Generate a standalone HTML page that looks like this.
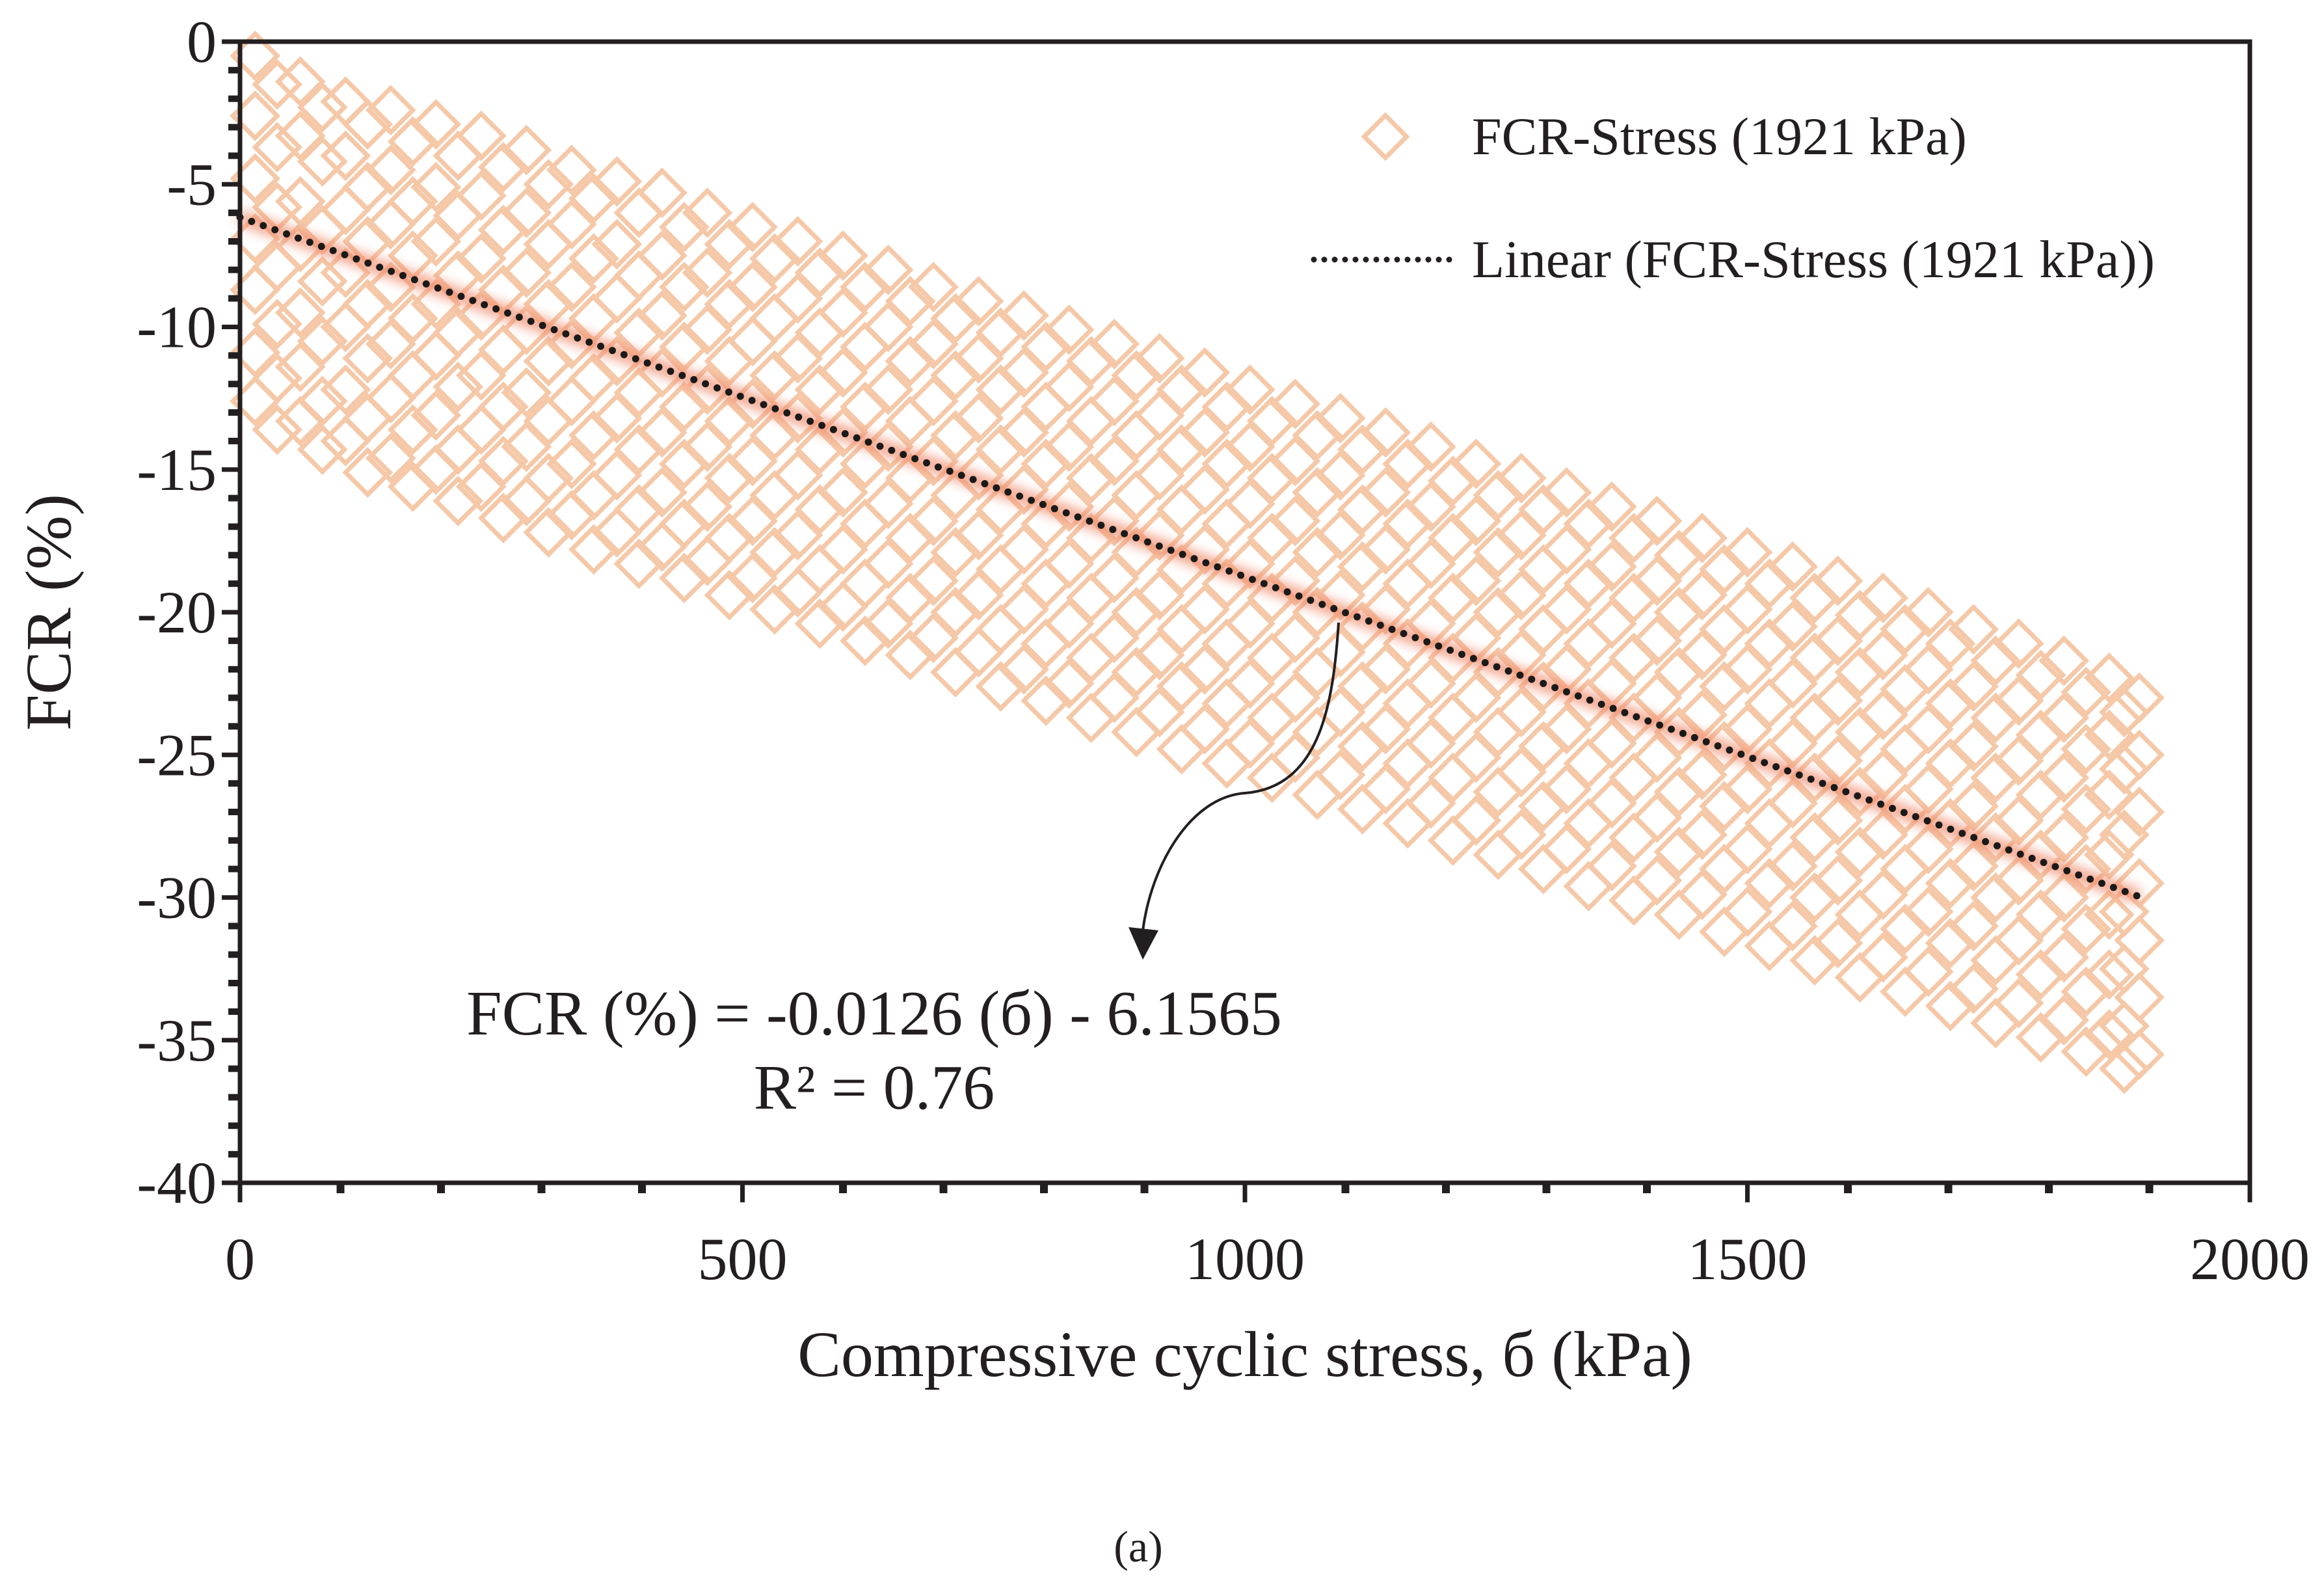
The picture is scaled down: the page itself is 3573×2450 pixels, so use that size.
<!DOCTYPE html>
<html><head><meta charset="utf-8"><style>
html,body{margin:0;padding:0;background:#fff;}
svg{display:block;font-family:"Liberation Serif",serif;}
</style></head><body>
<svg id="chart" width="3573" height="2450" viewBox="0 0 3573 2450" xmlns="http://www.w3.org/2000/svg">
<defs><filter id="blur" x="-5%" y="-50%" width="110%" height="200%"><feGaussianBlur stdDeviation="9"/></filter></defs>
<g id="points"></g>
<g id="trend"></g>
<g id="axes"></g>
<g>
  <rect x="2107" y="187" width="46" height="46" transform="rotate(45 2130 210)" fill="none" stroke="#f5c8a8" stroke-width="7"/>
  <text x="2263" y="237" font-size="82" fill="#231f20">FCR-Stress (1921 kPa)</text>
  <line x1="2020" y1="399" x2="2238" y2="399" stroke="#231f20" stroke-width="9" stroke-dasharray="0 16" stroke-linecap="round"/>
  <text x="2263" y="426" font-size="82" fill="#231f20">Linear (FCR-Stress (1921 kPa))</text>
</g>
<g>
  <path d="M2058,957 C2050,1080 2030,1210 1914,1219 C1830,1225 1770,1330 1757,1430" fill="none" stroke="#231f20" stroke-width="4"/>
  <polygon points="1735,1425 1781,1430 1757,1475" fill="#231f20"/>
  <text x="1344" y="1590" font-size="98" text-anchor="middle" fill="#231f20">FCR (%) = -0.0126 (б) - 6.1565</text>
  <text x="1344" y="1704" font-size="98" text-anchor="middle" fill="#231f20">R² = 0.76</text>
</g>
<text x="1914" y="2115" font-size="100" text-anchor="middle" fill="#231f20">Compressive cyclic stress, б (kPa)</text>
<text x="0" y="0" font-size="100" text-anchor="middle" fill="#231f20" transform="translate(108 941) rotate(-90)">FCR (%)</text>
<text x="1750" y="2400" font-size="68" text-anchor="middle" fill="#231f20">(a)</text>
</svg>
<script>
const colX = [15,60,105,150,195,240,285,330,375,420,465,510,555,600,645,690,735,780,825,870,915,960,1005,1050,1095,1140,1185,1230,1275,1320,1365,1410,1455,1500,1545,1590,1635,1680,1725,1770,1815,1860,1890];
const colY = [
[-0.5,-2.6,-4.8,-6.9,-8.7,-10.9,-12.6],[-1.4,-3.3,-5.6,-7.2,-9.5,-11.4,-13.3],[-2.1,-4.0,-5.9,-8.1,-10.0,-12.2,-14.0],
[-2.4,-4.5,-6.4,-8.6,-10.6,-12.5,-14.6],[-2.9,-5.1,-7.0,-9.2,-11.0,-13.1,-15.0],[-3.3,-5.4,-7.6,-9.6,-11.7,-13.6,-15.6],
[-3.8,-6.0,-8.1,-10.1,-12.3,-14.2,-16.1],[-4.5,-6.4,-8.6,-10.6,-12.6,-14.8,-16.6],[-4.9,-7.1,-9.0,-11.2,-13.2,-15.2,-17.2],
[-5.3,-7.5,-9.6,-11.6,-13.7,-15.8,-17.7],[-6.0,-8.1,-10.1,-12.2,-14.2,-16.3,-18.2],[-6.5,-8.6,-10.5,-12.7,-14.7,-16.8,-18.8],
[-7.0,-9.0,-11.1,-13.2,-15.2,-17.3,-19.3],[-7.5,-9.5,-11.6,-13.7,-15.8,-17.8,-19.8],[-8.0,-10.0,-12.2,-14.2,-16.2,-18.3,-20.4],
[-8.6,-10.6,-12.6,-14.7,-16.8,-18.9,-20.9],[-9.1,-11.1,-13.2,-15.2,-17.3,-19.4,-21.4],[-9.6,-11.6,-13.7,-15.7,-17.8,-19.9,-22.0],
[-10.1,-12.1,-14.2,-16.3,-18.3,-20.4,-22.5],[-10.6,-12.6,-14.7,-16.8,-18.8,-20.9,-23.0],[-11.1,-13.1,-15.2,-17.3,-19.4,-21.5,-23.5],
[-11.6,-13.7,-15.7,-17.8,-19.9,-22.0,-24.1],[-12.2,-14.2,-16.2,-18.3,-20.4,-22.5,-24.6],[-12.7,-14.7,-16.8,-18.9,-20.9,-23.0,-25.1],
[-13.2,-15.2,-17.3,-19.4,-21.4,-23.5,-25.7],[-13.7,-15.8,-17.8,-19.9,-22.0,-24.1,-26.2],[-14.2,-16.3,-18.3,-20.4,-22.5,-24.6,-26.7],
[-14.8,-16.8,-18.9,-20.9,-23.0,-25.1,-27.3],[-15.3,-17.3,-19.4,-21.5,-23.5,-25.6,-27.8],[-15.8,-17.8,-19.9,-22.0,-24.1,-26.2,-28.3],
[-16.3,-18.4,-20.4,-22.5,-24.6,-26.7,-28.9],[-16.8,-18.9,-21.0,-23.0,-25.1,-27.2,-29.4],[-17.4,-19.4,-21.5,-23.6,-25.7,-27.8,-29.9],
[-17.9,-19.9,-22.0,-24.1,-26.2,-28.3,-30.5],[-18.4,-20.5,-22.5,-24.6,-26.7,-28.9,-31.0],[-18.9,-21.0,-23.1,-25.2,-27.3,-29.4,-31.6],
[-19.5,-21.5,-23.6,-25.7,-27.8,-29.9,-32.1],[-20.0,-22.0,-24.1,-26.2,-28.3,-30.5,-32.6],[-20.6,-22.6,-24.7,-26.8,-28.9,-31.0,-33.2],
[-21.1,-23.1,-25.2,-27.3,-29.4,-31.5,-33.7],[-21.7,-23.7,-25.8,-27.9,-30.0,-32.1,-34.3],[-22.3,-24.3,-26.4,-28.5,-30.6,-32.7,-34.8],
[-23.0,-25.0,-27.0,-29.5,-31.5,-33.5,-35.5]
];
const colX2 = [37,82,127,172,217,262,307,352,397,442,487,532,577,622,667,712,757,802,847,892,937,982,1027,1072,1117,1162,1207,1252,1297,1342,1387,1432,1477,1522,1567,1612,1657,1702,1747,1792,1837,1875];
const colY2 = [
[-1.5,-3.7,-5.8,-7.9,-9.9,-11.8,-13.6],[-2.3,-4.2,-6.6,-8.4,-10.5,-12.6,-14.3],[-2.9,-5.1,-7.0,-9.2,-11.1,-13.2,-15.1],
[-3.5,-5.6,-7.5,-9.7,-11.7,-13.6,-15.6],[-4.0,-6.1,-8.2,-10.2,-12.1,-14.3,-16.1],[-4.4,-6.6,-8.7,-10.8,-12.8,-14.7,-16.7],
[-5.0,-7.1,-9.2,-11.2,-13.3,-15.3,-17.2],[-5.5,-7.6,-9.7,-11.8,-13.8,-15.9,-17.8],[-6.0,-8.2,-10.2,-12.3,-14.3,-16.4,-18.3],
[-6.5,-8.6,-10.7,-12.8,-14.8,-16.9,-18.8],[-7.1,-9.2,-11.2,-13.3,-15.3,-17.4,-19.4],[-7.6,-9.7,-11.7,-13.8,-15.9,-17.9,-19.9],
[-8.1,-10.2,-12.2,-14.3,-16.4,-18.5,-20.4],[-8.6,-10.7,-12.8,-14.8,-16.9,-19.0,-21.0],[-9.1,-11.2,-13.3,-15.3,-17.4,-19.5,-21.5],
[-9.7,-11.7,-13.8,-15.9,-17.9,-20.0,-22.1],[-10.2,-12.2,-14.3,-16.4,-18.5,-20.6,-22.6],[-10.7,-12.8,-14.8,-16.9,-19.0,-21.1,-23.1],
[-11.2,-13.3,-15.3,-17.4,-19.5,-21.6,-23.7],[-11.7,-13.8,-15.9,-17.9,-20.0,-22.1,-24.2],[-12.2,-14.3,-16.4,-18.5,-20.6,-22.6,-24.8],
[-12.8,-14.8,-16.9,-19.0,-21.1,-23.2,-25.3],[-13.3,-15.3,-17.4,-19.5,-21.6,-23.7,-25.8],[-13.8,-15.8,-17.9,-20.0,-22.1,-24.2,-26.4],
[-14.3,-16.4,-18.4,-20.5,-22.6,-24.7,-26.9],[-14.8,-16.9,-19.0,-21.1,-23.2,-25.3,-27.4],[-15.4,-17.4,-19.5,-21.6,-23.7,-25.8,-28.0],
[-15.9,-17.9,-20.0,-22.1,-24.2,-26.3,-28.5],[-16.4,-18.5,-20.6,-22.6,-24.7,-26.8,-29.0],[-16.9,-19.0,-21.1,-23.2,-25.3,-27.4,-29.6],
[-17.4,-19.5,-21.6,-23.7,-25.8,-27.9,-30.1],[-18.0,-20.0,-22.1,-24.2,-26.3,-28.4,-30.6],[-18.5,-20.6,-22.6,-24.7,-26.8,-29.0,-31.2],
[-19.0,-21.1,-23.2,-25.3,-27.4,-29.5,-31.7],[-19.5,-21.6,-23.7,-25.8,-27.9,-30.0,-32.2],[-20.1,-22.1,-24.2,-26.3,-28.4,-30.6,-32.8],
[-20.6,-22.7,-24.8,-26.9,-29.0,-31.1,-33.3],[-21.1,-23.2,-25.3,-27.4,-29.5,-31.6,-33.8],[-21.7,-23.7,-25.8,-27.9,-30.0,-32.2,-34.4],
[-22.2,-24.3,-26.4,-28.5,-30.6,-32.7,-34.9],[-22.8,-24.8,-26.9,-29.0,-31.1,-33.3,-35.4],[-23.5,-25.5,-27.8,-30.5,-32.5,-34.5,-36.0]
];
const trendSlope = -0.0126;
const trendIntercept = -6.1565;
const trendRange = [0, 1890];
const xTicks = [0,500,1000,1500,2000];
const yTicks = [0,-5,-10,-15,-20,-25,-30,-35,-40];

const L=369, R=3459, T=64, B=1818;
const sx = v => L + (v-0)/(2000-0)*(R-L);
const sy = v => T + (0-v)/(0-(-40))*(B-T);
const NS="http://www.w3.org/2000/svg";
function mk(tag, attrs, parent){const e=document.createElementNS(NS,tag);for(const k in attrs)e.setAttribute(k,attrs[k]);parent.appendChild(e);return e;}

const pg=document.getElementById('points');
function drawSet(xs, ys){
  xs.forEach((x,i)=>{ys[i].forEach(y=>{
    const cx=sx(x), cy=sy(y);
    const d=mk('rect',{x:cx-24,y:cy-24,width:48,height:48,transform:`rotate(45 ${cx} ${cy})`,fill:'none',stroke:'#f5c8a8','stroke-width':7},pg);
    
    
  });});
}
drawSet(colX, colY);
drawSet(colX2, colY2);

const tg=document.getElementById('trend');
const x1=trendRange[0], x2=trendRange[1];
const glow=mk('line',{x1:sx(x1),y1:sy(trendSlope*x1+trendIntercept),x2:sx(x2),y2:sy(trendSlope*x2+trendIntercept),stroke:'#f08a6a','stroke-width':22,opacity:0.8,filter:'url(#blur)'},tg);


const dots=mk('line',{x1:sx(x1),y1:sy(trendSlope*x1+trendIntercept),x2:sx(x2),y2:sy(trendSlope*x2+trendIntercept),stroke:'#1a1a1a','stroke-width':11,'stroke-dasharray':'0 19','stroke-linecap':'round'},tg);



const ag=document.getElementById('axes');
const frame=mk('rect',{x:L,y:T,width:R-L,height:B-T,fill:'none',stroke:'#231f20','stroke-width':7},ag);


for(let v=0; v>=-40; v-=1){
  const major = v%5===0;
  const t=mk('line',{x1:L-(major?28:18),y1:sy(v),x2:L,y2:sy(v),stroke:'#231f20','stroke-width':major?7:10},ag);
  
  
}
for(let v=0; v<=2000; v+=100){
  const major = v%500===0;
  const t=mk('line',{x1:sx(v),y1:B,x2:sx(v),y2:B+(major?30:16),stroke:'#231f20','stroke-width':major?7:12},ag);
  
  
}
yTicks.forEach(v=>{
  const t=mk('text',{x:L-36,y:sy(v)+31,'font-size':92,'text-anchor':'end',fill:'#231f20'},ag);
  t.textContent=String(v).replace('-','‑');
  t.textContent=String(v);
  
  
});
xTicks.forEach(v=>{
  const t=mk('text',{x:sx(v),y:B+148,'font-size':92,'text-anchor':'middle',fill:'#231f20'},ag);
  t.textContent=String(v);
  
  
});
</script>
</body></html>
